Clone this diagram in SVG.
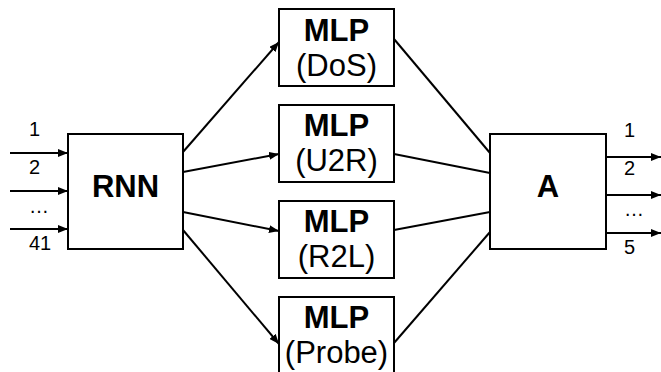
<svg xmlns="http://www.w3.org/2000/svg" width="661" height="372" viewBox="0 0 661 372">
<style>
.box{fill:#fff;stroke:#000;stroke-width:2}
.b{font-family:"Liberation Sans",Arial,sans-serif;font-weight:bold;font-size:31px;text-anchor:middle;fill:#000}
.r{font-family:"Liberation Sans",Arial,sans-serif;font-size:31px;text-anchor:middle;fill:#000}
.s{font-family:"Liberation Sans",Arial,sans-serif;font-size:20px;fill:#000}
.c{stroke:#000;stroke-width:2;fill:none}
</style>
<defs>
<marker id="ah" viewBox="0 0 10 8" refX="10" refY="4" markerWidth="10" markerHeight="8" markerUnits="userSpaceOnUse" orient="auto">
<path d="M0,0 L10,4 L0,8 Z" fill="#000"/>
</marker>
</defs>
<g id="connectors">
<line class="c" x1="10" y1="153" x2="68" y2="153" marker-end="url(#ah)"/>
<line class="c" x1="10" y1="191" x2="68" y2="191" marker-end="url(#ah)"/>
<line class="c" x1="10" y1="229" x2="68" y2="229" marker-end="url(#ah)"/>
<line class="c" x1="183" y1="152" x2="279" y2="42" marker-end="url(#ah)"/>
<line class="c" x1="183" y1="172" x2="279" y2="154" marker-end="url(#ah)"/>
<line class="c" x1="183" y1="212" x2="279" y2="231" marker-end="url(#ah)"/>
<line class="c" x1="183" y1="230" x2="279" y2="344" marker-end="url(#ah)"/>
<line class="c" x1="394" y1="39" x2="490" y2="153"/>
<line class="c" x1="394" y1="154" x2="490" y2="173"/>
<line class="c" x1="394" y1="230" x2="490" y2="212"/>
<line class="c" x1="394" y1="343" x2="490" y2="232"/>
<line class="c" x1="606" y1="157" x2="661" y2="157" marker-end="url(#ah)"/>
<line class="c" x1="606" y1="195" x2="661" y2="195" marker-end="url(#ah)"/>
<line class="c" x1="606" y1="233" x2="661" y2="233" marker-end="url(#ah)"/>
</g>
<g id="inputs">
<text class="s" x="29" y="136">1</text>
<text class="s" x="29" y="174">2</text>
<text class="s" x="29" y="213">…</text>
<text class="s" x="29" y="250">41</text>
</g>
<g id="rnn">
<rect class="box" x="68" y="134" width="115" height="115"/>
<text class="b" x="125.5" y="197">RNN</text>
</g>
<g id="mlp-dos">
<rect class="box" x="279" y="9" width="115" height="77"/>
<text class="b" x="336.5" y="41">MLP</text>
<text class="r" x="336.5" y="76">(DoS)</text>
</g>
<g id="mlp-u2r">
<rect class="box" x="279" y="105" width="115" height="77"/>
<text class="b" x="336.5" y="136">MLP</text>
<text class="r" x="336.5" y="171">(U2R)</text>
</g>
<g id="mlp-r2l">
<rect class="box" x="279" y="201" width="115" height="77"/>
<text class="b" x="336.5" y="232">MLP</text>
<text class="r" x="336.5" y="267">(R2L)</text>
</g>
<g id="mlp-probe">
<rect class="box" x="279" y="297" width="115" height="77"/>
<text class="b" x="336.5" y="328">MLP</text>
<text class="r" x="336.5" y="363">(Probe)</text>
</g>
<g id="a">
<rect class="box" x="490" y="134" width="116" height="115"/>
<text class="b" x="548" y="197">A</text>
</g>
<g id="outputs">
<text class="s" x="624" y="137">1</text>
<text class="s" x="624" y="175">2</text>
<text class="s" x="624" y="216">…</text>
<text class="s" x="624" y="254">5</text>
</g>
</svg>
